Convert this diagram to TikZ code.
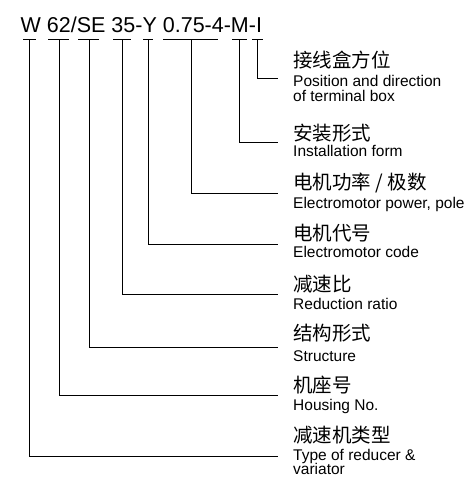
\documentclass[tikz,border=0pt]{standalone}
\usepackage{fontspec}
\setmainfont{Liberation Sans}
\newfontfamily\cjk{Noto Sans CJK SC}
\begin{document}
\begin{tikzpicture}[x=1pt,y=-1pt,
  cn/.style={anchor=west,inner sep=0pt,font=\cjk\fontsize{19.5}{20}\selectfont},
  en/.style={anchor=base west,inner sep=0pt,font=\fontsize{15.5}{15}\selectfont},
  conn/.style={line width=0.8pt,black},
  bar/.style={line width=0.8pt,black}]
\useasboundingbox (0,0) rectangle (469,477);
\node[anchor=base west,inner sep=0pt,font=\fontsize{21.5}{22}\selectfont] (title) at (20.5,32) {W 62/SE 35-Y 0.75-4-M-I};
% bar ends and midpoints
\foreach \n/\a/\m/\b in {W/23/29/36, H/48/59/69, S/78/89/99, R/113/122/131, Y/143/148/153, P/163/191/218, M/232/239/247, I/252/257/263}{
  \coordinate (l\n) at (\a,39.5);
  \coordinate (m\n) at (\m,39.5);
  \coordinate (r\n) at (\b,39.5);
  \draw[bar] (l\n) -- (r\n);
}
% horizontal line ends
\coordinate (eI) at (278,78);
\coordinate (eM) at (278,142.5);
\coordinate (eP) at (278,193.5);
\coordinate (eY) at (278,244);
\coordinate (eR) at (278,294);
\coordinate (eS) at (278,347);
\coordinate (eH) at (278,395);
\coordinate (eW) at (278,456.5);
\foreach \n in {I,M,P,Y,R,S,H,W}{
  \draw[conn] (m\n) |- (e\n);
}
% labels
\node[cn] (cI) at (293,60.5) {接线盒方位};
\node[en] (eI1) at (293,86.7) {Position and direction};
\node[en] (eI2) at (293,101.7) {of terminal box};
\node[cn] (cM) at (293,133.3) {安装形式};
\node[en] (eM1) at (293,156.7) {Installation form};
\node[cn] (cP) at (293,182.5) {电机功率 / 极数};
\node[en] (eP1) at (293,208) {Electromotor power, pole};
\node[cn] (cY) at (293,233.3) {电机代号};
\node[en] (eY1) at (293,257.5) {Electromotor code};
\node[cn] (cR) at (293,284) {减速比};
\node[en] (eR1) at (293,309) {Reduction ratio};
\node[cn] (cS) at (293,333.3) {结构形式};
\node[en] (eS1) at (293,361) {Structure};
\node[cn] (cH) at (293,385.5) {机座号};
\node[en] (eH1) at (293,410) {Housing No.};
\node[cn] (cW) at (293,435.5) {减速机类型};
\node[en] (eW1) at (293,460) {Type of reducer \&};
\node[en] (eW2) at (293,474.5) {variator};
\end{tikzpicture}
\end{document}
